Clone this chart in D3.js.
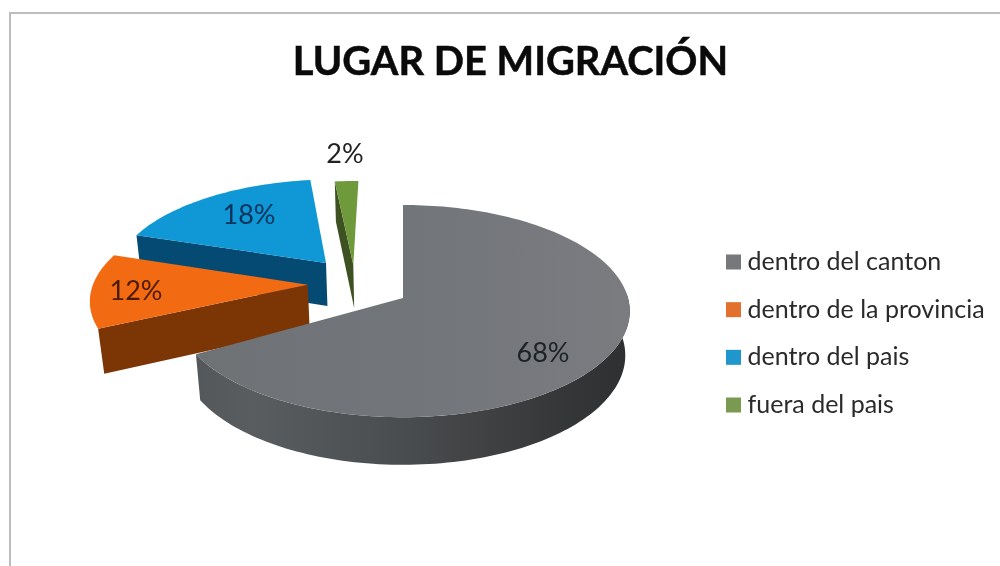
<!DOCTYPE html>
<html><head><meta charset="utf-8">
<script src="https://cdn.jsdelivr.net/npm/d3@7"></script>
<style>html,body{margin:0;background:#fff}svg{display:block;filter:blur(.7px)}text{font-family:Lato,sans-serif}</style>
</head><body><svg id="c" width="1000" height="566"></svg>
<script>
const title = "LUGAR DE MIGRACIÓN";
const categories = ["dentro del canton","dentro de la provincia","dentro del pais","fuera del pais"];
const values = [68,12,18,2];
const labels = ["68%","12%","18%","2%"];
const colors = ["#707378","#f26a12","#0f97d6","#6f9a3c"];
const legendColors = ["#76787b","#e3702c","#1f97cc","#7a9a52"];
const wallColors = ["#55585b","#7c3606","#054a72","#3d5220"];
const offsetX = [0,-0.43,-0.357,-0.23];
const offsetZ = [0,0.13,0.35,0.33];
const radius = [1,0.97,0.97,0.97];

const svg = d3.select("#c");
const W=1000,H=566;
svg.append("path").attr("d",`M10,${H}V13H${W}`).attr("fill","none").attr("stroke","#bdbdbd").attr("stroke-width",2);
svg.append("text").attr("x",510.5).attr("y",75).attr("text-anchor","middle").attr("font-size",39.8).attr("font-weight",700).attr("fill","#0a0a0a").attr("stroke","#0a0a0a").attr("stroke-width",.5).text(title);

const cx=403, cy=298, A=225, B=104.5, D=8.1, depthV=45, depthZ=0.16;
const proj=(X,Z,bottom)=>{
  const s=D/(D+Z+(bottom?depthZ:0));
  return [cx+A*X*s, cy-B*Z*s+(bottom?depthV*s:0)];
};
const pie=d3.pie().sort(null)(values);
const line=d3.line();
const defs=svg.append("defs");
const g=defs.append("linearGradient").attr("id","wall0").attr("gradientUnits","userSpaceOnUse").attr("x1",200).attr("x2",630).attr("y1",0).attr("y2",0);
[[0,"#55585b"],[.12,"#5a5d60"],[.45,"#4b4e50"],[.8,"#38393b"],[1,"#2e2f31"]].forEach(d=>g.append("stop").attr("offset",d[0]).attr("stop-color",d[1]));
const g1=defs.append("linearGradient").attr("id","top0").attr("gradientUnits","userSpaceOnUse").attr("x1",200).attr("x2",630).attr("y1",0).attr("y2",0);
[[0,"#6f7275"],[.5,"#72757a"],[1,"#7a7c80"]].forEach(d=>g1.append("stop").attr("offset",d[0]).attr("stop-color",d[1]));

const pt=(i,a,bottom)=>proj(offsetX[i]+radius[i]*Math.sin(a),offsetZ[i]+radius[i]*Math.cos(a),bottom);
const apex=(i,bottom)=>proj(offsetX[i],offsetZ[i],bottom);
const rim=(i,a0,a1,bottom)=>{const n=Math.max(2,Math.ceil(Math.abs(a1-a0)*40));return d3.range(n+1).map(k=>pt(i,a0+(a1-a0)*k/n,bottom));};

[3,2,1,0].forEach(i=>{
  const a0=pie[i].startAngle;
  const a1=pie[i].endAngle-(i===0?0.09:0);
  const gs=svg.append("g");
  if(i===0){
    const f0=Math.PI/2-0.05, f1=a1;
    const top=rim(i,f0,f1,false), bot=rim(i,f0,f1,true).reverse();
    gs.append("path").attr("d",line(top.concat(bot))+"Z").attr("fill","url(#wall0)");
  } else {
    gs.append("path").attr("d",line([apex(i,false),pt(i,a0,false),pt(i,a0,true),apex(i,true)])+"Z").attr("fill",wallColors[i]);
  }
  const t=[apex(i,false)].concat(rim(i,a0,a1,false));
  gs.append("path").attr("d",line(t)+"Z").attr("fill",i===0?"url(#top0)":colors[i]);
});

const labelPos=[[543,362],[136,300],[249,224],[345,163]];
const labelFill=["#1c2226","#4a1a05","#07345a","#222"];
labels.forEach((t,i)=>svg.append("text").attr("x",labelPos[i][0]).attr("y",labelPos[i][1]).attr("text-anchor","middle").attr("font-size",27).attr("fill",labelFill[i]).text(t));

const ly=d3.scalePoint().domain(categories).range([262,405]);
categories.forEach((c,i)=>{
  svg.append("rect").attr("x",726).attr("y",ly(c)-7.5).attr("width",15).attr("height",15).attr("fill",legendColors[i]);
  svg.append("text").attr("x",747.5).attr("y",ly(c)+8).attr("font-size",25).attr("fill","#2a2a2a").text(c);
});
</script></body></html>
